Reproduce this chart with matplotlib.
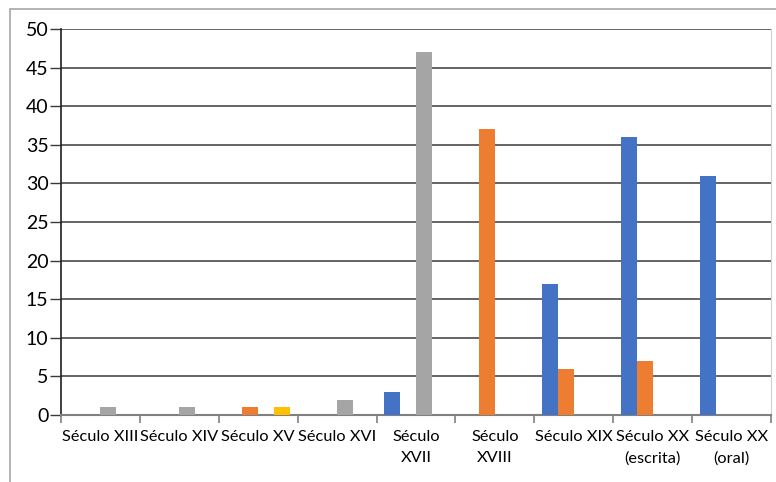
import numpy as np
import matplotlib
matplotlib.use("Agg")
import matplotlib.pyplot as plt
from matplotlib.patches import Rectangle

categories = ['Século XIII', 'Século XIV', 'Século XV', 'Século XVI', 'Século\nXVII',
              'Século\nXVIII', 'Século XIX', 'Século XX\n(escrita)', 'Século XX\n(oral)']
serie1 = [0, 0, 0, 0, 3, 0, 17, 36, 31]
serie2 = [0, 0, 1, 0, 0, 37, 6, 7, 0]
serie3 = [1, 1, 0, 2, 47, 0, 0, 0, 0]
serie4 = [0, 0, 1, 0, 0, 0, 0, 0, 0]
yticks = [0, 5, 10, 15, 20, 25, 30, 35, 40, 45, 50]

colors = ['#4472C4', '#ED7D31', '#A5A5A5', '#FFC000']
myfontsize = 11.8
plt.rcParams['font.family'] = ['Lato', 'DejaVu Sans']

fig = plt.figure(figsize=(7.76, 4.82), dpi=100)
# outer chart border (cropped at right and bottom)
fig.patches.append(Rectangle((10 / 776, -0.1), 1.2, 1 - 9 / 482 + 0.1, transform=fig.transFigure,
                             fill=False, edgecolor='#a6a6a6', linewidth=1.2))
ax = fig.add_axes([61 / 776, 1 - 415 / 482, 710 / 776, 386 / 482])

x = np.arange(len(categories))
w = 0.2
for i, vals in enumerate([serie1, serie2, serie3, serie4]):
    ax.bar(x + (i - 1.5) * w, vals, width=w, color=colors[i], zorder=3)

ax.set_xlim(-0.5, len(categories) - 0.5)
ax.set_ylim(0, 50)
ax.set_yticks(yticks)
ax.yaxis.grid(True, color='#3a3a3a', linewidth=1.1, zorder=0)
ax.set_axisbelow(True)

ax.set_xticks(np.arange(-0.5, len(categories)), [''] * (len(categories) + 1))
ax.set_xticks(x, categories, minor=True)
ax.tick_params(axis='x', which='minor', length=0, labelsize=myfontsize, pad=11)
ax.tick_params(axis='x', which='major', length=6, width=1.2, color='#808080')
ax.tick_params(axis='y', length=8, width=1, color='#3a3a3a', labelsize=14, pad=1)
for lab in ax.get_xticklabels(minor=True):
    lab.set_linespacing(1.6)

ax.spines['top'].set_visible(False)
ax.spines['right'].set_color('#d0d0d0')
ax.spines['left'].set_color('#202020')
ax.spines['left'].set_linewidth(1.2)
ax.spines['bottom'].set_color('#808080')
ax.spines['bottom'].set_linewidth(1.5)

fig.savefig('out.png', dpi=100)
